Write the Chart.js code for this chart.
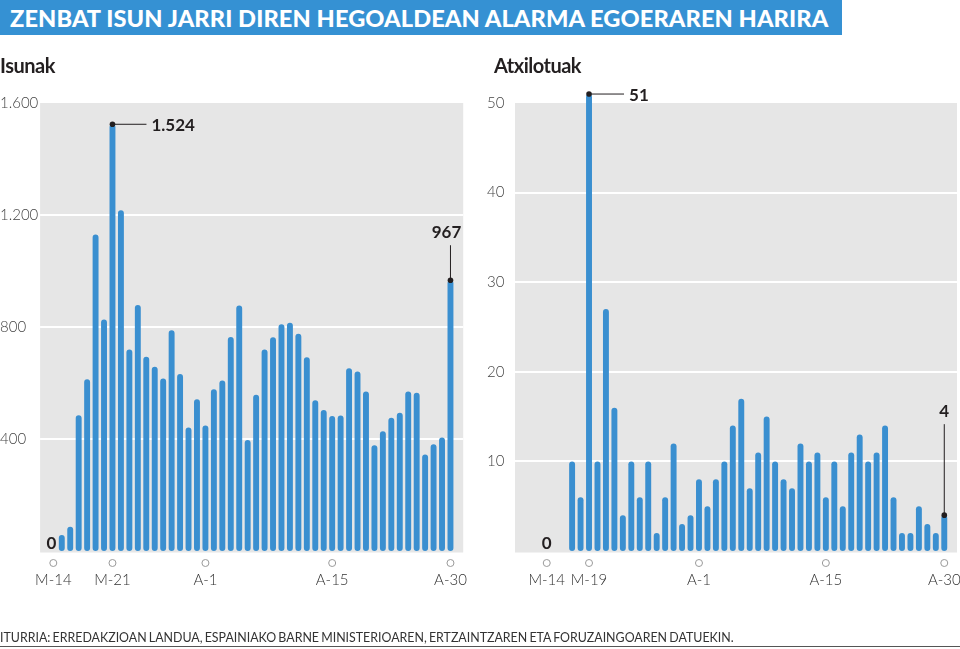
<!DOCTYPE html>
<html>
<head>
<meta charset="utf-8">
<script src="https://cdn.jsdelivr.net/npm/chart.js@4"></script>
<style>
  html, body { margin: 0; padding: 0; background: #fff; }
  body { width: 960px; height: 649px; position: relative; overflow: hidden; font-family: Lato, "Open Sans", sans-serif; }
  #izenburua { position: absolute; left: 0; top: 0; width: 842px; height: 35px; background: #3591d3;
               color: #fff; font: 900 23.6px Lato, sans-serif; line-height: 36px; padding-left: 10px; box-sizing: border-box;
               white-space: nowrap; letter-spacing: 0.1px; }
  .azpi { position: absolute; top: 53px; font: 700 20px Lato, sans-serif; color: #231f20; letter-spacing: -0.5px; }
  .kaxa { position: absolute; top: 0; width: 480px; height: 649px; }
  #iturria { position: absolute; left: 0; top: 630px; width: 960px; height: 16px; border-bottom: 1px solid #555;
             font: 400 12.4px Lato, sans-serif; color: #333; white-space: nowrap; word-spacing: -1px; }
</style>
</head>
<body>
<div id="izenburua">ZENBAT ISUN JARRI DIREN HEGOALDEAN ALARMA EGOERAREN HARIRA</div>
<div class="kaxa" style="left:0"><canvas id="isunak-grafikoa"></canvas></div>
<div class="kaxa" style="left:480px"><canvas id="atxilotuak-grafikoa"></canvas></div>
<div class="azpi" style="left:0">Isunak</div>
<div class="azpi" style="left:494px">Atxilotuak</div>
<div id="iturria">ITURRIA: ERREDAKZIOAN LANDUA, ESPAINIAKO BARNE MINISTERIOAREN, ERTZAINTZAREN ETA FORUZAINGOAREN DATUEKIN.</div>

<script>
// egunak: martxoaren 14tik apirilaren 30era
const egunak = ['M-14','M-15','M-16','M-17','M-18','M-19','M-20','M-21','M-22','M-23','M-24','M-25','M-26','M-27','M-28','M-29','M-30','M-31',
                'A-1','A-2','A-3','A-4','A-5','A-6','A-7','A-8','A-9','A-10','A-11','A-12','A-13','A-14','A-15','A-16','A-17','A-18','A-19','A-20',
                'A-21','A-22','A-23','A-24','A-25','A-26','A-27','A-28','A-29','A-30'];

const isunak = [0, 57, 87, 485, 613, 1130, 827, 1524, 1217, 720, 879, 694, 658, 616, 788, 632, 441, 542,
                448, 578, 609, 764, 877, 396, 558, 720, 763, 810, 815, 776, 692, 538, 504, 482, 484, 653, 641, 570,
                378, 428, 476, 494, 570, 565, 345, 381, 405, 967];

const atxilotuak = [0, 0, 0, 10, 6, 51, 10, 27, 16, 4, 10, 6, 10, 2, 6, 12, 3, 4,
                    8, 5, 8, 10, 14, 17, 7, 11, 15, 10, 8, 7, 12, 10, 11, 6, 10, 5, 11, 13,
                    10, 11, 14, 6, 2, 2, 5, 3, 2, 4];

// ardatzean agertzen diren etiketak (posizioa eta testua)
const isunTikPos = [0, 7, 18, 33, 47];
const isunTikak = ['M-14', 'M-21', 'A-1', 'A-15', 'A-30'];
const atxTikPos = [0, 5, 18, 33, 47];
const atxTikak = ['M-14', 'M-19', 'A-1', 'A-15', 'A-30'];

const urdina = '#3a8fd0';

const formatua = function(v) {
    return v.toString().replace(/\B(?=(\d{3})+(?!\d))/g, '.');
};

// atzeko grisa eta lerro zuriak
const atzealdea = {
    id: 'atzealdea',
    beforeDraw(chart, args, o) {
        const {ctx, chartArea, scales: {x, y}} = chart;
        const ezk = chartArea.left - o.ezkerra;
        const esk = chartArea.right + o.eskuina;
        const goia = y.getPixelForValue(y.max);
        ctx.save();
        ctx.fillStyle = '#e6e6e6';
        ctx.fillRect(ezk, goia, esk - ezk, chartArea.bottom + 1.5 - goia);
        ctx.strokeStyle = '#ffffff';
        ctx.lineWidth = 2;
        for (const t of y.ticks) {
            if (t.value <= 0 || t.value >= y.max) continue;
            const py = Math.round(y.getPixelForValue(t.value));
            ctx.beginPath(); ctx.moveTo(ezk, py); ctx.lineTo(esk, py); ctx.stroke();
        }
        // ardatzeko zirkulutxoak
        ctx.strokeStyle = '#9a9a9a';
        ctx.lineWidth = 1;
        for (const p of o.tikPos) {
            ctx.beginPath();
            ctx.arc(x.getPixelForValue(p), chartArea.bottom + 12, 3.5, 0, Math.PI * 2);
            ctx.stroke();
        }
        ctx.restore();
    },
    afterDatasetsDraw(chart, args, o) {
        const {ctx, scales: {x, y}} = chart;
        const datuak = chart.data.datasets[0].data;
        ctx.save();
        ctx.fillStyle = '#231f20';
        ctx.strokeStyle = '#231f20';
        ctx.lineWidth = 1;
        ctx.font = '700 17px Lato';
        for (const a of o.oharrak) {
            const px = x.getPixelForValue(a.i);
            const py = y.getPixelForValue(datuak[a.i]);
            ctx.beginPath(); ctx.arc(px, py, 2.8, 0, Math.PI * 2); ctx.fill();
            ctx.beginPath();
            if (a.norabidea === 'eskuin') {
                ctx.moveTo(px, py); ctx.lineTo(px + a.luzera, py); ctx.stroke();
                ctx.textAlign = 'left'; ctx.textBaseline = 'middle';
                ctx.fillText(formatua(datuak[a.i]), px + a.luzera + 5, py + 1);
            } else {
                ctx.moveTo(px, py); ctx.lineTo(px, py - a.luzera); ctx.stroke();
                ctx.textAlign = 'center'; ctx.textBaseline = 'alphabetic';
                ctx.fillText(formatua(datuak[a.i]), px + (a.dx || 0), py - a.luzera - 7);
            }
        }
        // hasierako zeroa
        ctx.textAlign = 'center'; ctx.textBaseline = 'alphabetic';
        ctx.fillText(formatua(datuak[0]), x.getPixelForValue(0) + o.zeroDx, y.getPixelForValue(0) - 2);
        ctx.restore();
    }
};

const marraztuGrafikoa = function(idCanvas, datuak, maxY, pausoa, tikPos, tikak, ardatzZabalera, eskPad, etiketaPad, atzeEzk, oharrak, zeroDx)
{
    const ctx = document.getElementById(idCanvas).getContext('2d');
    return new Chart(ctx, {
        type: 'bar',
        data: { labels: egunak,
                datasets: [ { data: datuak, backgroundColor: urdina, borderRadius: 3, borderSkipped: false,
                              barPercentage: 0.7, categoryPercentage: 1, clip: false } ] },
        options: {
            responsive: true, maintainAspectRatio: false, animation: false,
            layout: { padding: { left: 0, right: eskPad, top: 103, bottom: 48 } },
            plugins: { legend: { display: false }, tooltip: { enabled: false },
                       atzealdea: { ezkerra: atzeEzk, eskuina: 8.5, tikPos: tikPos, oharrak: oharrak, zeroDx: zeroDx } },
            scales: {
                x: { grid: { display: false }, border: { display: false },
                     ticks: { autoSkip: false, maxRotation: 0, padding: 12, color: '#333',
                              font: { family: 'Lato', size: 15, weight: 300 },
                              callback: (v, i) => { const k = tikPos.indexOf(i); return k >= 0 ? tikak[k] : ''; } },
                     afterFit: (s) => { s.height = 50; s.paddingLeft = 0; s.paddingRight = 0; } },
                y: { min: 0, max: maxY, grid: { display: false }, border: { display: false },
                     ticks: { stepSize: pausoa, padding: etiketaPad, color: '#444', crossAlign: etiketaPad ? 'near' : 'far',
                              font: { family: 'Lato', size: 15, weight: 300 },
                              callback: (v) => v === 0 ? '' : formatua(v) },
                     afterFit: (s) => { s.width = ardatzZabalera; s.paddingTop = 0; s.paddingBottom = 0; } }
            }
        },
        plugins: [atzealdea]
    });
};

marraztuGrafikoa('isunak-grafikoa', isunak, 1600, 400, isunTikPos, isunTikak, 49.1, 25.3, 0, 9,
    [ { i: 7, norabidea: 'eskuin', luzera: 34 }, { i: 47, norabidea: 'gora', luzera: 35, dx: -4 } ], -2);

marraztuGrafikoa('atxilotuak-grafikoa', atxilotuak, 50, 10, atxTikPos, atxTikak, 62.5, 11.5, 30, 27.5,
    [ { i: 5, norabidea: 'eskuin', luzera: 35 }, { i: 47, norabidea: 'gora', luzera: 91 } ], 0);
</script>
</body>
</html>
